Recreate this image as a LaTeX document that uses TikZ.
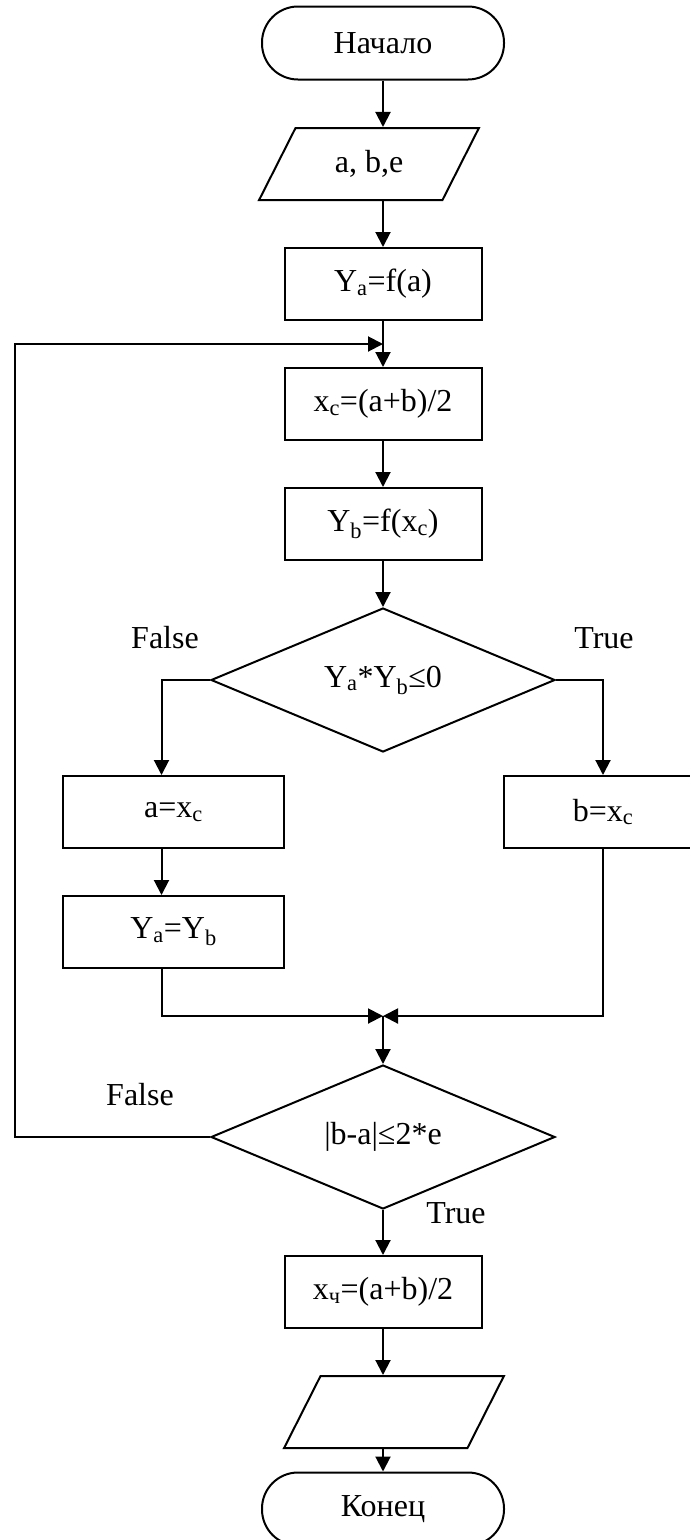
\documentclass[tikz,border=0pt]{standalone}
\usepackage{fontspec}
\setmainfont{Liberation Serif}
\usetikzlibrary{shapes.geometric,arrows.meta}
\tikzset{gbox/.style={
    rectangle,
    draw,
    line width=2pt,
    inner sep=0pt,
    minimum height=72pt,
    minimum width=197pt
  },
  tbox/.style={gbox,rounded corners=36pt,minimum width=242pt,minimum height=73pt},
  iobox/.style={gbox,trapezium,trapezium left angle=58,trapezium right angle=122,
    trapezium stretches=true,minimum width=220pt},
  questbox/.style={gbox,diamond,shape aspect=2.4,minimum width=344pt,minimum height=144pt},
  conn/.style={line width=2pt,->},
}

\begin{document}
\begin{tikzpicture}[x=1pt,y=-1pt,>={Triangle[length=15pt,width=15pt]},
    font=\fontsize{32}{38}\selectfont]
  \useasboundingbox (0,0) rectangle (690,1540);
  \node [tbox] (start) at (383,43) {Начало};
  \node [iobox] (input) at (369,164) {a, b,e};
  \node [gbox] (fa) at (383,284) {Y\textsubscript{a}=f(a)};
  \coordinate (loop) at (383,344);
  \node [gbox] (xc) at (383,404) {x\textsubscript{c}=(a+b)/2};
  \node [gbox] (yb) at (383,524) {Y\textsubscript{b}=f(x\textsubscript{c})};
  \node [questbox] (d1) at (383,680) {Y\textsubscript{a}*Y\textsubscript{b}≤0};
  \node (f1) at (165,638) {False};
  \node (t1) at (604,638) {True};
  \node [gbox,minimum width=221pt] (abox) at (173.5,812) {a=x\textsubscript{c}};
  \node [gbox,minimum width=198pt] (bbox) at (603,812) {b=x\textsubscript{c}};
  \node [gbox,minimum width=221pt] (ya) at (173.5,932) {Y\textsubscript{a}=Y\textsubscript{b}};
  \coordinate (merge) at (383,1016);
  \node [questbox] (d2) at (383,1137) {|b-a|≤2*e};
  \coordinate (back) at (15,1137);
  \node (f2) at (140,1095) {False};
  \node (t2) at (456,1213) {True};
  \node [gbox] (out) at (383,1292) {x\textsubscript{ч}=(a+b)/2};
  \node [iobox] (output) at (394,1412) {\phantom{a, b,e}};
  \node [tbox] (end) at (383,1509) {Конец};
  \draw[conn] (start) -- (start |- input.north);
  \draw[conn] (start |- input.south) -- (fa);
  \draw[conn] (fa) -- (xc);
  \draw[conn] (xc) -- (yb);
  \draw[conn] (yb) -- (d1);
  \draw[conn] (d1.west) -| ([xshift=-12pt]abox.north);
  \draw[conn] (d1.east) -| (bbox);
  \draw[conn] ([xshift=-12pt]abox.south) -- ([xshift=-12pt]ya.north);
  \draw[conn] ([xshift=-12pt]ya.south) |- (merge);
  \draw[conn] (bbox) |- (merge);
  \draw[conn] (merge) -- (d2);
  \draw[conn] (d2.west) -- (back) |- (loop);
  \draw[conn] (d2) -- (out);
  \draw[conn] (out) -- (out |- output.north);
  \draw[conn] (out |- output.south) -- (end);
\end{tikzpicture}
\end{document}
